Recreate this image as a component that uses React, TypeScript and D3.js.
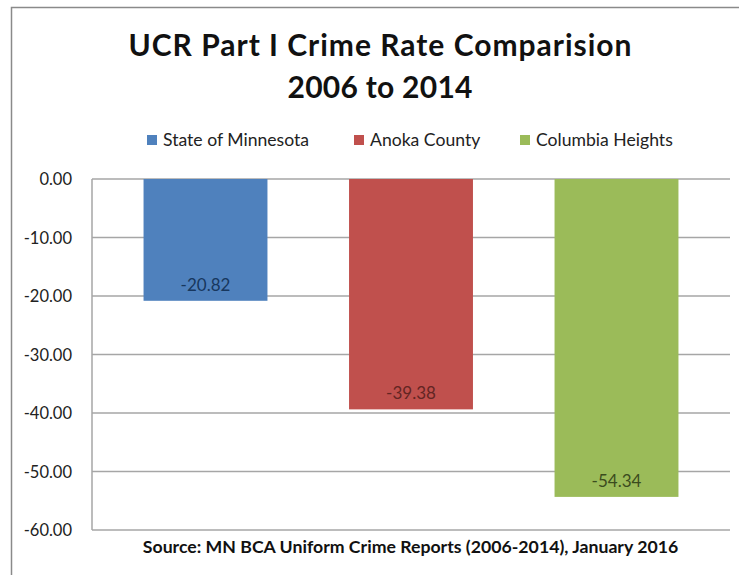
import React from "react";
import * as d3 from "d3";

const seriesNames = ["State of Minnesota", "Anoka County", "Columbia Heights"];
const seriesValues = [-20.82, -39.38, -54.34];
const seriesColors = ["#4F81BD", "#C0504D", "#9BBB59"];
const labelColors = ["#17375E", "#632523", "#3B4C1E"];
const yTicks = [0, -10, -20, -30, -40, -50, -60];
const titleLines = ["UCR Part I Crime Rate Comparision", "2006 to 2014"];
const sourceText = "Source: MN BCA Uniform Crime Reports (2006-2014), January 2016";

const W = 739;
const H = 575;
const FONT = "Lato, 'Open Sans', sans-serif";

export default function App() {
  const plotLeft = 92;
  const plotRight = 730;
  const y = d3.scaleLinear().domain([0, -60]).range([179, 530]);
  const center = (plotLeft + plotRight) / 2;
  const step = 205.5;
  const x = d3
    .scaleBand<string>()
    .domain(seriesNames)
    .range([center - 1.5 * step, center + 1.5 * step])
    .paddingInner(0.397)
    .paddingOuter(0.1985);

  const legendX = [147, 354, 520];
  const titleWidths = [503, 185];

  return (
    <svg
      width={W}
      height={H}
      style={{ position: "fixed", left: 0, top: 0, background: "#fff" }}
      fontFamily={FONT}
    >
      <rect x={0} y={0} width={W} height={H} fill="#fff" />
      <rect x={11.5} y={7.5} width={W + 20} height={H + 20} fill="none" stroke="#8a8a8a" strokeWidth={1.5} />
      {titleLines.map((t, i) => (
        <text
          key={i}
          x={380}
          y={56 + i * 42}
          textAnchor="middle"
          fontSize={30}
          fontWeight="bold"
          fill="#111"
          textLength={titleWidths[i]}
          lengthAdjust="spacing"
        >
          {t}
        </text>
      ))}
      {seriesNames.map((s, i) => (
        <g key={s}>
          <rect x={legendX[i]} y={135} width={10} height={10} fill={seriesColors[i]} />
          <text x={legendX[i] + 16} y={145.5} fontSize={17.6} fill="#222">
            {s}
          </text>
        </g>
      ))}
      {yTicks.map((t) => (
        <g key={t}>
          <line x1={plotLeft} x2={plotRight} y1={y(t)} y2={y(t)} stroke="#a6a6a6" strokeWidth={1.5} />
          <text x={72} y={y(t) + 6} textAnchor="end" fontSize={16.5} fill="#222">
            {d3.format(".2f")(t).replace("−", "-")}
          </text>
        </g>
      ))}
      <line x1={plotLeft} x2={plotLeft} y1={y(0)} y2={y(-60)} stroke="#a6a6a6" strokeWidth={1.5} />
      {seriesNames.map((s, i) => (
        <g key={s}>
          <rect
            x={x(s)!}
            y={y(0)}
            width={x.bandwidth()}
            height={y(seriesValues[i]) - y(0)}
            fill={seriesColors[i]}
          />
          <text
            x={x(s)! + x.bandwidth() / 2}
            y={y(seriesValues[i]) - 10}
            textAnchor="middle"
            fontSize={17}
            fill={labelColors[i]}
          >
            {d3.format(".2f")(seriesValues[i]).replace("−", "-")}
          </text>
        </g>
      ))}
      <text x={410.5} y={553} textAnchor="middle" fontSize={17.7} fontWeight="bold" fill="#111">
        {sourceText}
      </text>
    </svg>
  );
}
